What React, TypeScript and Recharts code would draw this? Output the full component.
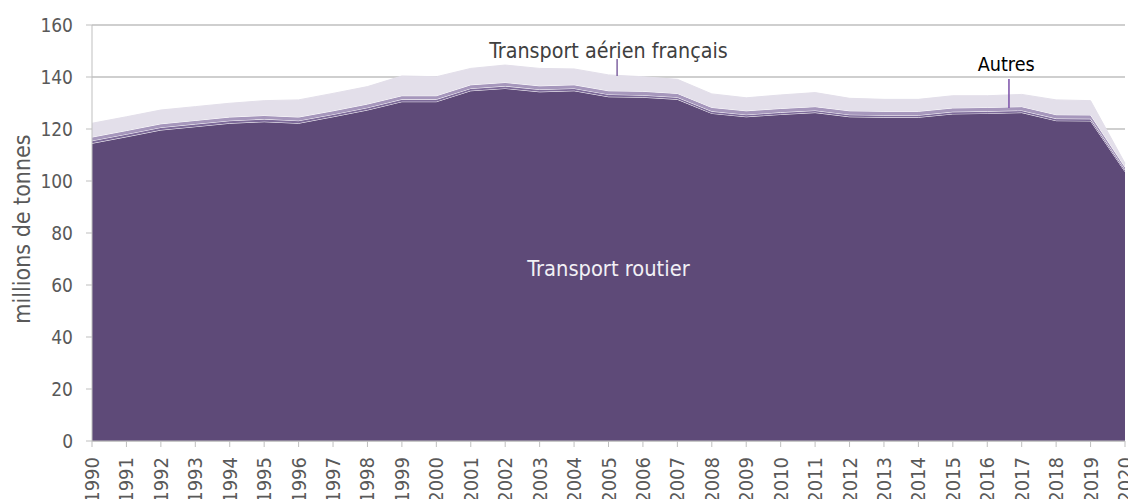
import React from 'react';
import {
  AreaChart,
  Area,
  XAxis,
  YAxis,
  CartesianGrid,
  ReferenceLine,
  ReferenceDot,
} from 'recharts';

const years = [
  1990, 1991, 1992, 1993, 1994, 1995, 1996, 1997, 1998, 1999, 2000, 2001, 2002, 2003, 2004, 2005,
  2006, 2007, 2008, 2009, 2010, 2011, 2012, 2013, 2014, 2015, 2016, 2017, 2018, 2019, 2020,
];

// millions de tonnes
const routier = [
  114.5, 117.0, 119.6, 120.9, 122.2, 122.8, 122.2, 124.7, 127.3, 130.5, 130.5, 134.7, 135.6, 134.3,
  134.7, 132.4, 132.2, 131.4, 126.0, 124.7, 125.6, 126.3, 124.7, 124.5, 124.5, 125.8, 126.0, 126.3,
  123.2, 123.1, 103.6,
];
const ferroviaire = [
  1.0, 1.0, 1.0, 1.0, 1.0, 1.0, 1.0, 0.9, 0.9, 0.9, 0.9, 0.9, 0.9, 0.9, 0.9, 0.9, 0.8, 0.8, 0.8,
  0.8, 0.8, 0.8, 0.8, 0.8, 0.8, 0.8, 0.8, 0.8, 0.8, 0.8, 0.7,
];
const autres = [
  1.4, 1.4, 1.4, 1.4, 1.4, 1.4, 1.4, 1.4, 1.4, 1.4, 1.4, 1.4, 1.4, 1.4, 1.4, 1.4, 1.5, 1.5, 1.5,
  1.5, 1.5, 1.5, 1.5, 1.5, 1.5, 1.5, 1.5, 1.5, 1.5, 1.5, 1.1,
];
const aerien = [
  5.3, 5.3, 5.3, 5.3, 5.3, 5.7, 6.6, 6.7, 6.7, 7.6, 7.3, 6.3, 6.7, 6.7, 6.1, 6.1, 5.6, 5.4, 5.2,
  5.0, 5.2, 5.4, 4.8, 4.6, 4.6, 4.7, 4.5, 4.7, 5.7, 5.5, 1.4,
];

const yTicks = [0, 20, 40, 60, 80, 100, 120, 140, 160];

const data = years.map((year, i) => ({
  year,
  routier: routier[i],
  ferroviaire: ferroviaire[i],
  autres: autres[i],
  aerien: aerien[i],
}));

const FONT = "'DejaVu Sans Condensed', 'DejaVu Sans', sans-serif";
const GRID = '#BFBFBF';
const TEXT = '#595959';

const YearTick = (props: any) => {
  const { x, y, payload } = props;
  return (
    <text
      x={x}
      y={y}
      transform={`rotate(-90, ${x}, ${y})`}
      textAnchor="end"
      dy="0.35em"
      fill={TEXT}
      fontSize={20}
      fontFamily={FONT}
    >
      {payload.value}
    </text>
  );
};

const YTitle = (props: any) => {
  const { viewBox } = props;
  const x = viewBox.x + 14;
  const y = viewBox.y + viewBox.height / 2 - 4;
  return (
    <text
      x={x}
      y={y}
      transform={`rotate(-90, ${x}, ${y})`}
      textAnchor="middle"
      dy="0.35em"
      fill={TEXT}
      fontSize={23}
      fontFamily={FONT}
    >
      millions de tonnes
    </text>
  );
};

const makeLabel = (value: string, color: string, size: number) => (props: any) => {
  const { viewBox } = props;
  const cx = viewBox.x + (viewBox.width || 0) / 2;
  const cy = viewBox.y + (viewBox.height || 0) / 2;
  return (
    <text
      x={cx}
      y={cy}
      textAnchor="middle"
      dy="0.35em"
      fill={color}
      fontSize={size}
      fontFamily={FONT}
    >
      {value}
    </text>
  );
};

export default function App() {
  return (
    <div>
      <AreaChart
        width={1128}
        height={491}
        data={data}
        margin={{ top: 17, right: 11, bottom: 8, left: 0 }}
      >
        <CartesianGrid vertical={false} stroke={GRID} strokeWidth={1.5} />
        <XAxis
          dataKey="year"
          type="number"
          domain={[1990, 2020]}
          ticks={years}
          interval={0}
          height={50}
          stroke={GRID}
          tickLine={{ stroke: GRID }}
          tickSize={6}
          tickMargin={10}
          tick={<YearTick />}
        />
        <YAxis
          domain={[0, 160]}
          ticks={yTicks}
          width={84}
          stroke={GRID}
          tickLine={{ stroke: GRID }}
          tickSize={6}
          tickMargin={13}
          tick={{ fill: TEXT, fontSize: 19, fontFamily: FONT }}
          label={<YTitle />}
        />
        <Area
          type="linear"
          dataKey="routier"
          name="Transport routier"
          stackId="1"
          fill="#5E4A78"
          fillOpacity={1}
          stroke="#FFFFFF"
          strokeWidth={1}
          isAnimationActive={false}
        />
        <Area
          type="linear"
          dataKey="ferroviaire"
          name="Transport ferroviaire"
          stackId="1"
          fill="#7D6A99"
          fillOpacity={1}
          stroke="#FFFFFF"
          strokeWidth={1}
          isAnimationActive={false}
        />
        <Area
          type="linear"
          dataKey="autres"
          name="Autres"
          stackId="1"
          fill="#A697BC"
          fillOpacity={1}
          stroke="#FFFFFF"
          strokeWidth={1}
          isAnimationActive={false}
        />
        <Area
          type="linear"
          dataKey="aerien"
          name="Transport aérien français"
          stackId="1"
          fill="#E3DFEA"
          fillOpacity={1}
          stroke="#E3DFEA"
          strokeWidth={1}
          isAnimationActive={false}
        />
        <ReferenceLine
          segment={[
            { x: 2005.25, y: 140.4 },
            { x: 2005.25, y: 146.9 },
          ]}
          stroke="#8064A2"
          strokeWidth={1.5}
        />
        <ReferenceLine
          segment={[
            { x: 2016.63, y: 128.1 },
            { x: 2016.63, y: 139.2 },
          ]}
          stroke="#7A4FA8"
          strokeWidth={1.5}
        />
        <ReferenceDot
          x={2005.0}
          y={150}
          r={0}
          fill="none"
          stroke="none"
          label={makeLabel('Transport aérien français', '#404040', 21.3)}
        />
        <ReferenceDot
          x={2016.55}
          y={145}
          r={0}
          fill="none"
          stroke="none"
          label={makeLabel('Autres', '#000000', 19.6)}
        />
        <ReferenceDot
          x={2005.0}
          y={66.2}
          r={0}
          fill="none"
          stroke="none"
          label={makeLabel('Transport routier', '#F2F0F5', 21.7)}
        />
      </AreaChart>
    </div>
  );
}
